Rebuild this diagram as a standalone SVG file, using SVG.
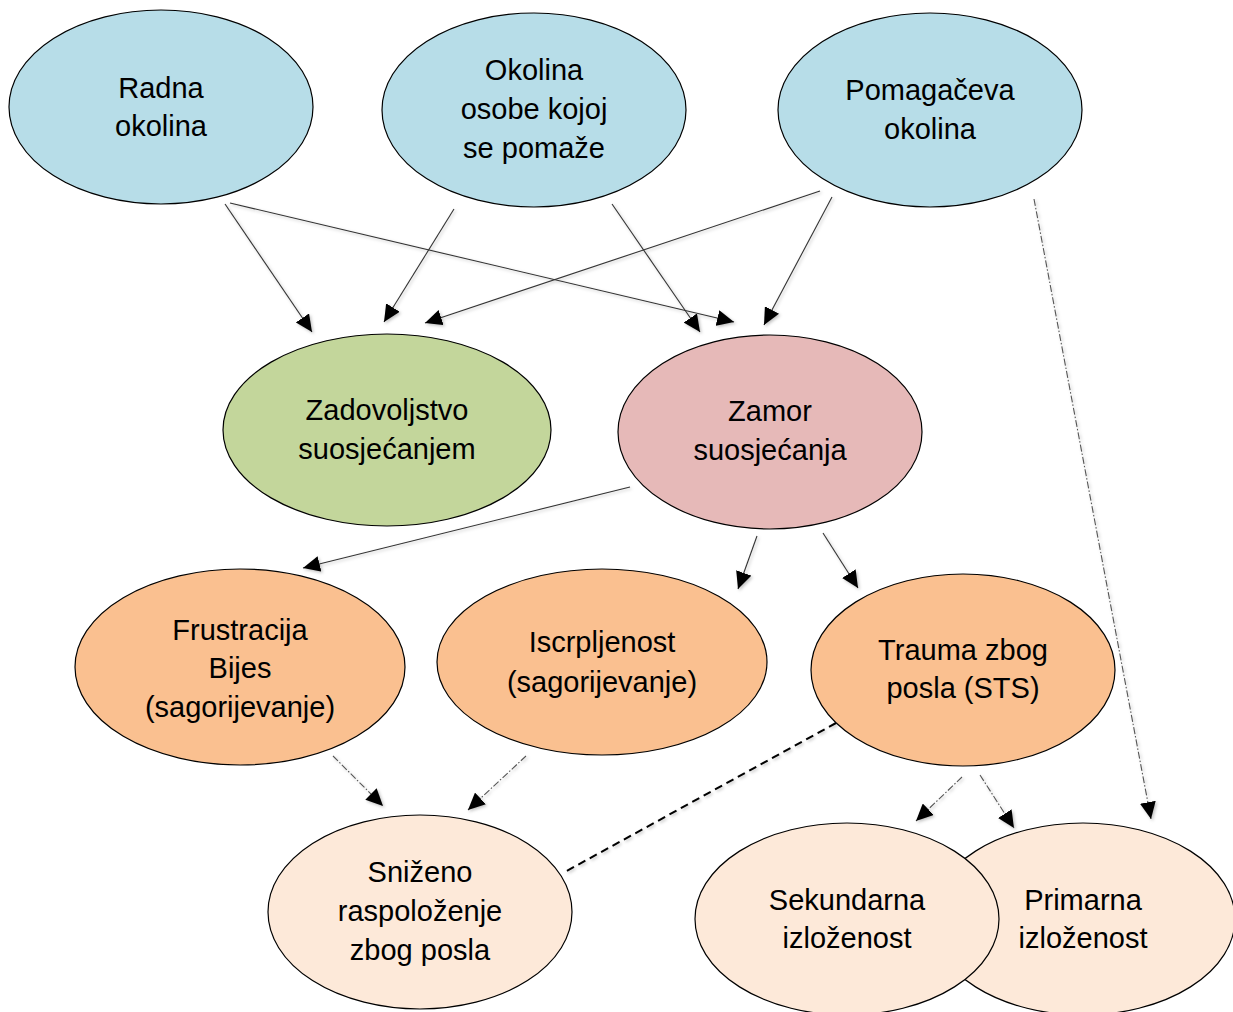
<svg xmlns="http://www.w3.org/2000/svg" width="1233" height="1012" viewBox="0 0 1233 1012">
<style>
.n{stroke:#000;stroke-width:1.2}
.blue{fill:#B7DDE8}
.green{fill:#C3D69B}
.pink{fill:#E6B9B8}
.orange{fill:#FAC090}
.peach{fill:#FDE9D9}
text{font-family:"Liberation Sans",Arial,sans-serif;font-size:29px;fill:#000;text-anchor:middle}
.e{fill:none;stroke:#333;stroke-width:1.1}
.dd{fill:none;stroke:#555;stroke-width:1.1;stroke-dasharray:7,2,1.5,2}
.dash{fill:none;stroke:#000;stroke-width:2;stroke-dasharray:8,5}
</style>
<defs>
<marker id="ah" markerUnits="userSpaceOnUse" markerWidth="18" markerHeight="16" viewBox="0 0 18 16" refX="17" refY="8" orient="auto">
<path d="M0,0 L17,8 L0,16 z" fill="#000"/>
</marker>
<filter id="sh" x="-10%" y="-10%" width="120%" height="120%">
<feDropShadow dx="1.5" dy="1.5" stdDeviation="1.5" flood-color="#000" flood-opacity="0.25"/>
</filter>
</defs>
<rect width="1233" height="1012" fill="#fff"/>
<g id="radna">
<ellipse class="n blue" cx="161" cy="107" rx="152" ry="97"/>
<text x="161" y="98">Radna</text>
<text x="161" y="136">okolina</text>
</g>
<g id="okolina-osobe">
<ellipse class="n blue" cx="534" cy="110" rx="152" ry="97"/>
<text x="534" y="80">Okolina</text>
<text x="534" y="119">osobe kojoj</text>
<text x="534" y="158">se pomaže</text>
</g>
<g id="pomagaceva">
<ellipse class="n blue" cx="930" cy="110" rx="152" ry="97"/>
<text x="930" y="100">Pomagačeva</text>
<text x="930" y="139">okolina</text>
</g>
<g id="zadovoljstvo">
<ellipse class="n green" cx="387" cy="430" rx="164" ry="96"/>
<text x="387" y="420">Zadovoljstvo</text>
<text x="387" y="459">suosjećanjem</text>
</g>
<g id="zamor">
<ellipse class="n pink" cx="770" cy="432" rx="152" ry="97"/>
<text x="770" y="421">Zamor</text>
<text x="770" y="460">suosjećanja</text>
</g>
<g id="frustracija">
<ellipse class="n orange" cx="240" cy="667" rx="165" ry="98"/>
<text x="240" y="640">Frustracija</text>
<text x="240" y="678">Bijes</text>
<text x="240" y="717">(sagorijevanje)</text>
</g>
<g id="iscrpljenost">
<ellipse class="n orange" cx="602" cy="662" rx="165" ry="93"/>
<text x="602" y="652">Iscrpljenost</text>
<text x="602" y="692">(sagorijevanje)</text>
</g>
<g id="trauma">
<ellipse class="n orange" cx="963" cy="670" rx="152" ry="96"/>
<text x="963" y="660">Trauma zbog</text>
<text x="963" y="698">posla (STS)</text>
</g>
<g id="snizeno">
<ellipse class="n peach" cx="420" cy="912" rx="152" ry="97"/>
<text x="420" y="882">Sniženo</text>
<text x="420" y="921">raspoloženje</text>
<text x="420" y="960">zbog posla</text>
</g>
<g id="primarna">
<ellipse class="n peach" cx="1083" cy="919" rx="152" ry="96"/>
<text x="1083" y="910">Primarna</text>
<text x="1083" y="948">izloženost</text>
</g>
<g id="sekundarna">
<ellipse class="n peach" cx="847" cy="919" rx="152" ry="96"/>
<text x="847" y="910">Sekundarna</text>
<text x="847" y="948">izloženost</text>
</g>
<g id="connectors" filter="url(#sh)">
<line class="e" x1="225" y1="204" x2="312" y2="332" marker-end="url(#ah)"/>
<line class="e" x1="230" y1="203" x2="734" y2="322" marker-end="url(#ah)"/>
<line class="e" x1="454" y1="209" x2="384" y2="322" marker-end="url(#ah)"/>
<line class="e" x1="612" y1="204" x2="700" y2="332" marker-end="url(#ah)"/>
<line class="e" x1="820" y1="191" x2="425" y2="323" marker-end="url(#ah)"/>
<line class="e" x1="832" y1="197" x2="764" y2="325" marker-end="url(#ah)"/>
<line class="e" x1="630" y1="487" x2="303" y2="568" marker-end="url(#ah)"/>
<line class="e" x1="757" y1="536" x2="738" y2="589" marker-end="url(#ah)"/>
<line class="e" x1="823" y1="533" x2="858" y2="588" marker-end="url(#ah)"/>
<line class="dd" x1="333" y1="756" x2="383" y2="806" marker-end="url(#ah)"/>
<line class="dd" x1="526" y1="756" x2="468" y2="810" marker-end="url(#ah)"/>
<line class="dd" x1="962" y1="777" x2="916" y2="821" marker-end="url(#ah)"/>
<line class="dd" x1="980" y1="775" x2="1014" y2="828" marker-end="url(#ah)"/>
<line class="dd" x1="1034" y1="199" x2="1151" y2="819" marker-end="url(#ah)"/>
<line class="dash" x1="836" y1="723" x2="563" y2="873"/>
</g>
</svg>
